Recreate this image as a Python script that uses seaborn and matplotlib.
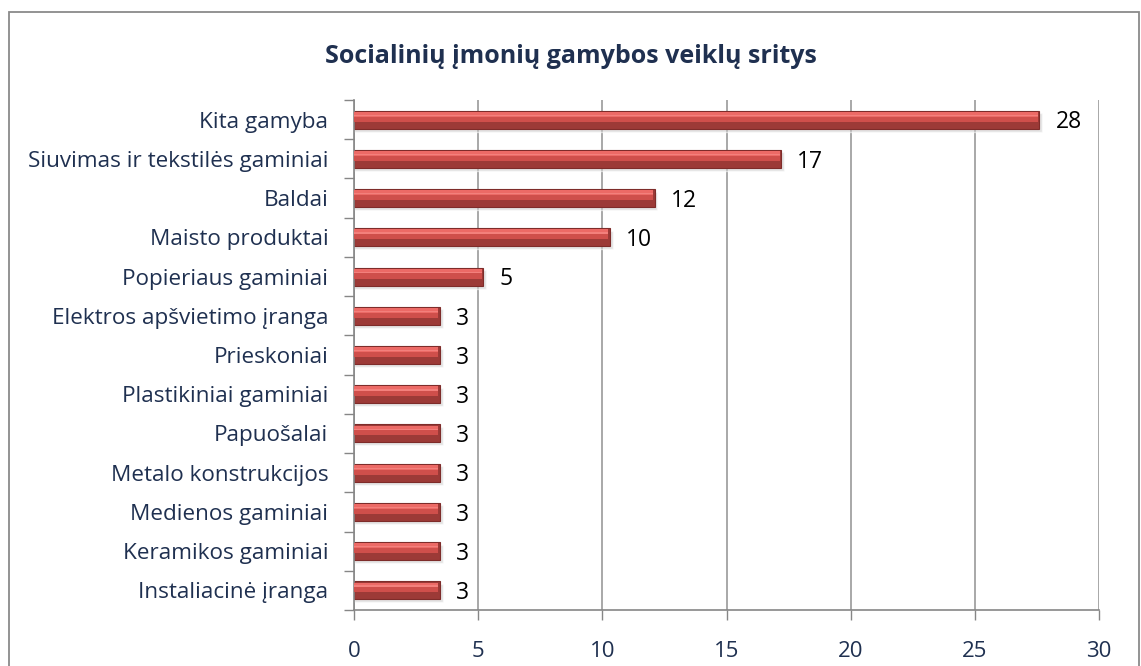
import numpy as np
import pandas as pd
import matplotlib
matplotlib.use("Agg")
import matplotlib.pyplot as plt
import seaborn as sns
from matplotlib.patches import Rectangle

categories = ["Kita gamyba", "Siuvimas ir tekstilės gaminiai", "Baldai", "Maisto produktai",
              "Popieriaus gaminiai", "Elektros apšvietimo įranga", "Prieskoniai",
              "Plastikiniai gaminiai", "Papuošalai", "Metalo konstrukcijos",
              "Medienos gaminiai", "Keramikos gaminiai", "Instaliacinė įranga"]
values = [27.6, 17.2, 12.1, 10.3, 5.2, 3.45, 3.45, 3.45, 3.45, 3.45, 3.45, 3.45, 3.45]
x_ticks = [0, 5, 10, 15, 20, 25, 30]
title = "Socialinių įmonių gamybos veiklų sritys"

df = pd.DataFrame({"cat": categories, "val": values})

sns.set_theme(style="white")
plt.rcParams['font.family'] = ['Open Sans', 'DejaVu Sans']

fig = plt.figure(figsize=(11.41, 6.66), dpi=100)
ax = fig.add_axes([0.3103, 0.0841, 0.6529, 0.7657])

# soft shadow
sns.barplot(data=df, x="val", y="cat", orient="h", color="#cfcfcf", width=0.47,
            ax=ax, zorder=1, saturation=1)
for p in ax.patches:
    p.set_y(p.get_y() + 0.07)
    p.set_alpha(0.55)
    p.set_width(p.get_width() + 0.12)

# main bar (dark base)
sns.barplot(data=df, x="val", y="cat", orient="h", color="#9C3A37", width=0.46,
            ax=ax, zorder=2, saturation=1, edgecolor="#7E2C2A", linewidth=0.8)
ys = np.arange(len(categories))
vals = np.array(values)
# bevel layers
ax.barh(ys - 0.02, vals - 0.06, height=0.14, color="#CF4F4B", zorder=3, linewidth=0)
ax.barh(ys - 0.14, vals - 0.06, height=0.12, color="#EC6A66", zorder=3, linewidth=0)
ax.barh(ys - 0.11, vals - 0.06, height=0.03, color="#F3807C", zorder=3, linewidth=0)

for y, v in zip(ys, values):
    ax.text(v + 0.65, y + 0.07, f"{v:.0f}", va="center", ha="left", fontsize=16.5, color="black", zorder=5)

ax.set_xlim(0, 30)
ax.set_ylim(len(categories) - 0.5, -0.5)
ax.set_xticks(x_ticks)
ax.set_xticklabels([str(t) for t in x_ticks], fontsize=16, color="#1F3050")
ax.set_yticks(ys)
ax.set_yticklabels(categories, fontsize=16.2, color="#1F3050")
ax.set_yticks(np.arange(-0.5, len(categories), 1), minor=True)
ax.tick_params(axis="y", which="major", length=0, pad=18.5)
ax.tick_params(axis="y", which="minor", length=7, width=1, color="#868686", direction="out", left=True)
ax.tick_params(axis="x", which="major", length=7, width=1, color="#868686", direction="out", bottom=True, pad=15)
ax.set_xlabel("")
ax.set_ylabel("")
ax.grid(axis="x", color="#9a9a9a", linewidth=1.2, zorder=0)
ax.set_axisbelow(True)
for s in ["top", "right"]:
    ax.spines[s].set_visible(False)
for s in ["left", "bottom"]:
    ax.spines[s].set_color("#868686")
    ax.spines[s].set_linewidth(1.2)

fig.text(0.5, 0.915, title, ha="center", va="center", fontsize=18, fontweight="bold", color="#1F3050")

fig.patches.append(Rectangle((0.0075, -0.01), 0.991, 0.992, transform=fig.transFigure,
                             fill=False, edgecolor="#8a8a8a", linewidth=1.3))

fig.savefig("out.png", dpi=100)
